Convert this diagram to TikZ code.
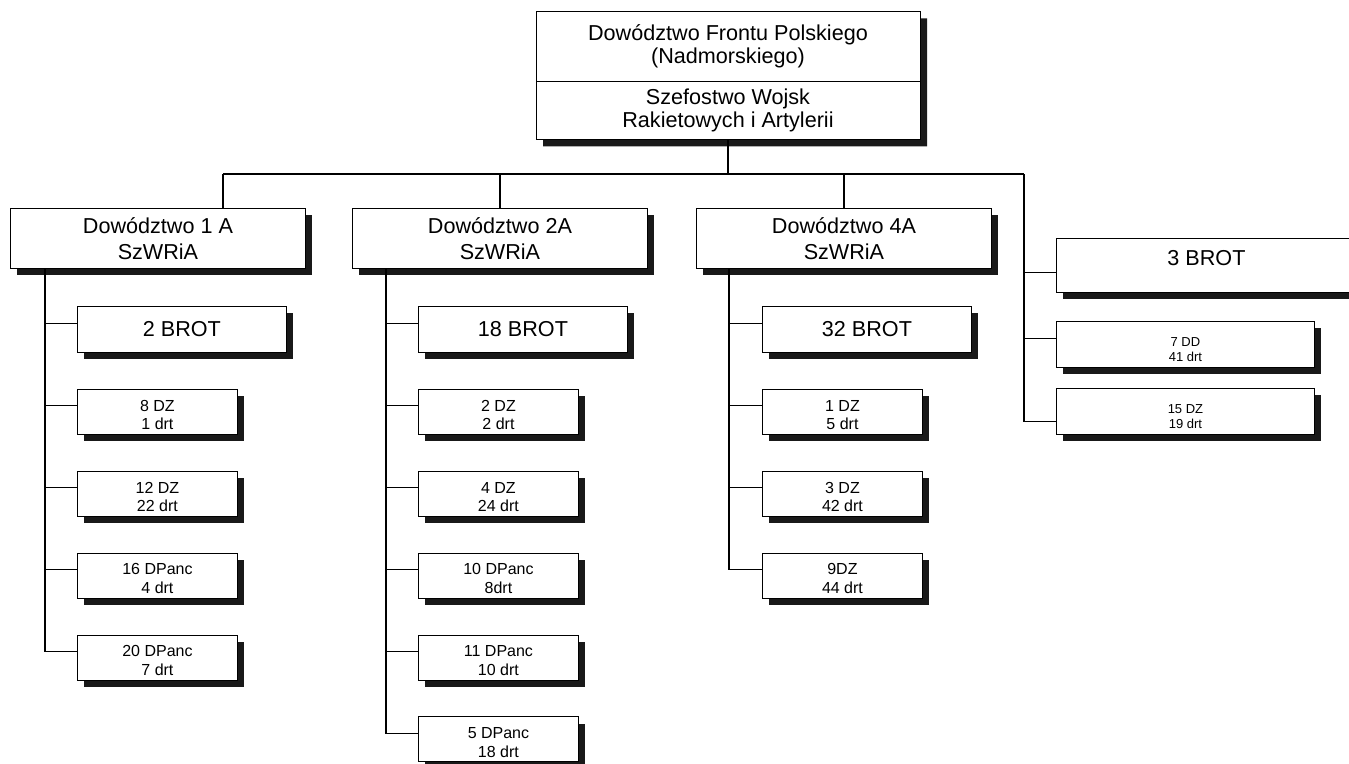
\documentclass[tikz,border=0pt]{standalone}
\usepackage{fontspec}
\setmainfont{Liberation Sans}
\usetikzlibrary{positioning,shapes,shadows}

\begin{document}
\begin{tikzpicture}[x=1pt,y=-1pt,
		cien/.style={drop shadow={shadow xshift=7pt,shadow yshift=-7pt,fill=black!90,opacity=1}},
		ramka/.style={draw, line width=0.9pt, fill=white, cien, inner sep=0pt},
		box/.style={ramka, align=center},
		hq/.style={box, anchor=north west, minimum width=295pt, minimum height=60pt, font=\fontsize{21.6}{26}\selectfont},
		brot/.style={box, minimum width=209pt, minimum height=46pt, font=\fontsize{21.6}{26}\selectfont},
		unit/.style={box, minimum width=160pt, minimum height=45pt, text height=36pt, font=\fontsize{16}{18.5}\selectfont},
		unitb/.style={box, minimum width=258pt, minimum height=46pt, text height=34pt, font=\fontsize{13}{15}\selectfont},
		pod/.style={below=36pt of #1.south west, anchor=north west},
		link/.style={line width=1.3pt}]
		\useasboundingbox (0,0) rectangle (1349,763);
		\clip (0,0) rectangle (1349,763);
		
		% dowodztwo frontu
		\node[ramka, rectangle split, rectangle split parts=2, anchor=north, font=\fontsize{21.6}{23.5}\selectfont] (front) at (728,11)
			{\parbox[c][69pt][c]{384pt}{\centering Dowództwo Frontu Polskiego\\(Nadmorskiego)}\nodepart{two}\parbox[c][57pt][c]{384pt}{\centering Szefostwo Wojsk\\Rakietowych i Artylerii}};
		
		% armie
		\node[hq] (d1) at (10,208) {Dowództwo 1 A\\SzWRiA};
		\node[hq] (d2) at (352,208) {Dowództwo 2A\\SzWRiA};
		\node[hq] (d4) at (696,208) {Dowództwo 4A\\SzWRiA};
		
		% 1 A
		\node[brot, below=37pt of d1.south west, anchor=north west, xshift=67pt] (brot2) {2 BROT};
		\node[unit, pod=brot2] (dz8) {8 DZ\\1 drt};
		\node[unit, pod=dz8] (dz12) {12 DZ\\22 drt};
		\node[unit, pod=dz12] (dp16) {16 DPanc\\4 drt};
		\node[unit, pod=dp16] (dp20) {20 DPanc\\7 drt};
		
		% 2A
		\node[brot, below=37pt of d2.south west, anchor=north west, xshift=66pt] (brot18) {18 BROT};
		\node[unit, pod=brot18] (dz2) {2 DZ\\2 drt};
		\node[unit, pod=dz2] (dz4) {4 DZ\\24 drt};
		\node[unit, pod=dz4] (dp10) {10 DPanc\\8drt};
		\node[unit, pod=dp10] (dp11) {11 DPanc\\10 drt};
		\node[unit, pod=dp11] (dp5) {5 DPanc\\18 drt};
		
		% 4A
		\node[brot, below=37pt of d4.south west, anchor=north west, xshift=66pt] (brot32) {32 BROT};
		\node[unit, pod=brot32] (dz1) {1 DZ\\5 drt};
		\node[unit, pod=dz1] (dz3) {3 DZ\\42 drt};
		\node[unit, pod=dz3] (dz9) {9DZ\\44 drt};
		
		% podlegle frontowi
		\node[brot, anchor=north west, minimum width=300pt, minimum height=54pt, text depth=14pt] (brot3) at (1056,238) {3 BROT};
		\node[unitb, below=28pt of brot3.south west, anchor=north west] (dd7) {7 DD\\41 drt};
		\node[unitb, below=20pt of dd7.south west, anchor=north west] (dz15) {15 DZ\\19 drt};
		
		\coordinate (bus1) at (223,174);
		\coordinate (bus4) at (1024,174);
		\coordinate (t1) at (45,268);
		\coordinate (t2) at (386,268);
		\coordinate (t3) at (729,268);
		
		\draw[link] (bus1) -- (bus4);
		\draw[link] (front.south) -- (front.south |- bus1);
		\draw[link] (bus1) -- (bus1 |- d1.north);
		\draw[link] (d2.north |- bus1) -- (d2.north);
		\draw[link] (d4.north |- bus1) -- (d4.north);
		
		\foreach \k in {brot2,dz8,dz12,dp16,dp20}
			\draw[link] ([yshift=6pt]\k.west) -| (t1);
		\foreach \k in {brot18,dz2,dz4,dp10,dp11,dp5}
			\draw[link] ([yshift=6pt]\k.west) -| (t2);
		\foreach \k in {brot32,dz1,dz3,dz9}
			\draw[link] ([yshift=6pt]\k.west) -| (t3);
		\foreach \k/\s in {brot3/-7,dd7/6,dz15/-10}
			\draw[link] ([yshift=\s pt]\k.west) -| (bus4);
	\end{tikzpicture}
\end{document}
